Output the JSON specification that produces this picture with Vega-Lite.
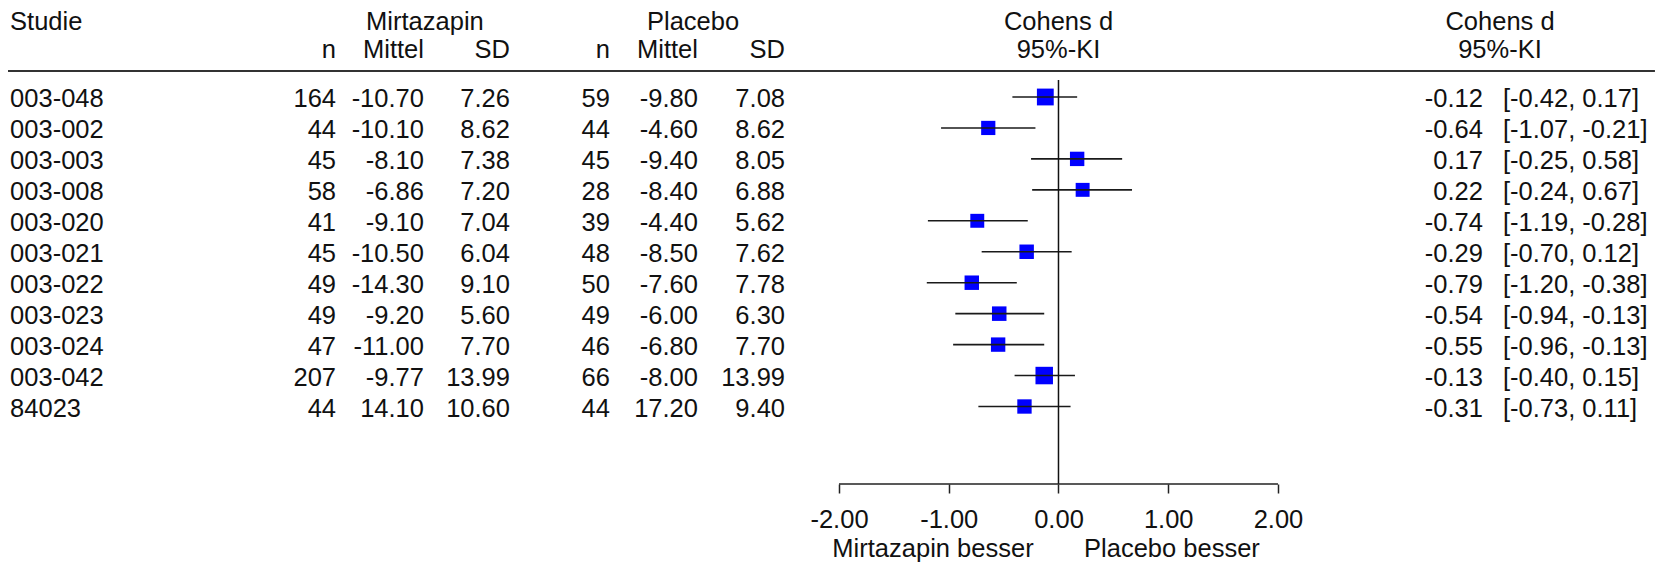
{
  "$schema": "https://vega.github.io/schema/vega-lite/v6.json",
  "width": 1669,
  "height": 484,
  "padding": 0,
  "autosize": {"type": "pad"},
  "background": "white",
  "config": {
    "view": {"stroke": null},
    "locale": {"number": {"decimal": ".", "thousands": ",", "grouping": [3], "currency": ["", ""], "minus": "-"}},
    "text": {"font": "Liberation Sans", "fontSize": 25.5, "color": "#111111"},
    "axisY": {"disable": true}
  },
  "datasets": {
    "studien": [
      {"nr": 1, "Studie": "003-048", "nM": 164, "mM": -10.70, "sdM": 7.26, "nP": 59, "mP": -9.80, "sdP": 7.08, "d": -0.12, "lo": -0.42, "hi": 0.17, "KI": "[-0.42, 0.17]", "gewicht": 15.3},
      {"nr": 2, "Studie": "003-002", "nM": 44, "mM": -10.10, "sdM": 8.62, "nP": 44, "mP": -4.60, "sdP": 8.62, "d": -0.64, "lo": -1.07, "hi": -0.21, "KI": "[-1.07, -0.21]", "gewicht": 7.2},
      {"nr": 3, "Studie": "003-003", "nM": 45, "mM": -8.10, "sdM": 7.38, "nP": 45, "mP": -9.40, "sdP": 8.05, "d": 0.17, "lo": -0.25, "hi": 0.58, "KI": "[-0.25, 0.58]", "gewicht": 7.7},
      {"nr": 4, "Studie": "003-008", "nM": 58, "mM": -6.86, "sdM": 7.20, "nP": 28, "mP": -8.40, "sdP": 6.88, "d": 0.22, "lo": -0.24, "hi": 0.67, "KI": "[-0.24, 0.67]", "gewicht": 6.4},
      {"nr": 5, "Studie": "003-020", "nM": 41, "mM": -9.10, "sdM": 7.04, "nP": 39, "mP": -4.40, "sdP": 5.62, "d": -0.74, "lo": -1.19, "hi": -0.28, "KI": "[-1.19, -0.28]", "gewicht": 6.4},
      {"nr": 6, "Studie": "003-021", "nM": 45, "mM": -10.50, "sdM": 6.04, "nP": 48, "mP": -8.50, "sdP": 7.62, "d": -0.29, "lo": -0.70, "hi": 0.12, "KI": "[-0.70, 0.12]", "gewicht": 7.9},
      {"nr": 7, "Studie": "003-022", "nM": 49, "mM": -14.30, "sdM": 9.10, "nP": 50, "mP": -7.60, "sdP": 7.78, "d": -0.79, "lo": -1.20, "hi": -0.38, "KI": "[-1.20, -0.38]", "gewicht": 7.9},
      {"nr": 8, "Studie": "003-023", "nM": 49, "mM": -9.20, "sdM": 5.60, "nP": 49, "mP": -6.00, "sdP": 6.30, "d": -0.54, "lo": -0.94, "hi": -0.13, "KI": "[-0.94, -0.13]", "gewicht": 8.1},
      {"nr": 9, "Studie": "003-024", "nM": 47, "mM": -11.00, "sdM": 7.70, "nP": 46, "mP": -6.80, "sdP": 7.70, "d": -0.55, "lo": -0.96, "hi": -0.13, "KI": "[-0.96, -0.13]", "gewicht": 7.7},
      {"nr": 10, "Studie": "003-042", "nM": 207, "mM": -9.77, "sdM": 13.99, "nP": 66, "mP": -8.00, "sdP": 13.99, "d": -0.13, "lo": -0.40, "hi": 0.15, "KI": "[-0.40, 0.15]", "gewicht": 17.6},
      {"nr": 11, "Studie": "84023", "nM": 44, "mM": 14.10, "sdM": 10.60, "nP": 44, "mP": 17.20, "sdP": 9.40, "d": -0.31, "lo": -0.73, "hi": 0.11, "KI": "[-0.73, 0.11]", "gewicht": 7.6}
    ]
  },
  "layer": [
    {
      "data": {"name": "studien"},
      "mark": {"type": "square", "filled": true, "color": "#0000ff", "opacity": 1, "strokeWidth": 0},
      "encoding": {
        "x": {"field": "d", "type": "quantitative", "title": null,
              "scale": {"domain": [-9.645, 5.563], "nice": false, "zero": false},
              "axis": {"values": [-2, -1, 0, 1, 2], "format": ".2f", "domain": false, "grid": false, "ticks": true, "tickSize": 9, "tickWidth": 1.5, "tickColor": "#222222", "labelFont": "Liberation Sans", "labelFontSize": 25.5, "labelColor": "#111111", "labelPadding": 14, "labelFlush": false, "labelOverlap": false, "title": null}},
        "y": {"field": "nr", "type": "quantitative", "axis": null, "scale": {"domain": [-2.134, 13.504], "nice": false, "zero": false, "reverse": true}},
        "size": {"field": "gewicht", "type": "quantitative", "legend": null, "scale": {"domain": [6, 18], "range": [190, 310]}}
      }
    },
    {
      "data": {"name": "studien"},
      "mark": {"type": "rule", "color": "#1a1a1a", "strokeWidth": 1.6},
      "encoding": {
        "x": {"field": "lo", "type": "quantitative", "title": null, "scale": {"domain": [-9.645, 5.563], "nice": false, "zero": false}},
        "x2": {"field": "hi"},
        "y": {"field": "nr", "type": "quantitative", "axis": null, "scale": {"domain": [-2.134, 13.504], "nice": false, "zero": false, "reverse": true}}
      }
    },
    {
      "data": {"values": [{}]},
      "mark": {"type": "rule", "color": "#111111", "strokeWidth": 1.5},
      "encoding": {
        "x": {"datum": 0, "scale": {"domain": [-9.645, 5.563], "nice": false, "zero": false}},
        "y": {"datum": 0.451, "axis": null, "scale": {"domain": [-2.134, 13.504], "nice": false, "zero": false, "reverse": true}},
        "y2": {"datum": 13.504}
      }
    },
    {
      "data": {"values": [{}]},
      "mark": {"type": "rule", "color": "#222222", "strokeWidth": 1.6},
      "encoding": {
        "x": {"datum": -2, "scale": {"domain": [-9.645, 5.563], "nice": false, "zero": false}},
        "x2": {"datum": 2},
        "y": {"datum": 13.504, "axis": null, "scale": {"domain": [-2.134, 13.504], "nice": false, "zero": false, "reverse": true}}
      }
    },
    {
      "data": {"values": [{}]},
      "mark": {"type": "rule", "color": "#333333", "strokeWidth": 2},
      "encoding": {
        "x": {"datum": -9.572, "scale": {"domain": [-9.645, 5.563], "nice": false, "zero": false}},
        "x2": {"datum": 5.435},
        "y": {"datum": 0.16, "axis": null, "scale": {"domain": [-2.134, 13.504], "nice": false, "zero": false, "reverse": true}}
      }
    },
    {
      "data": {"name": "studien"},
      "mark": {"type": "text", "align": "left", "baseline": "alphabetic", "dy": 10.5},
      "encoding": {
        "x": {"datum": -9.553, "scale": {"domain": [-9.645, 5.563], "nice": false, "zero": false}},
        "y": {"field": "nr", "type": "quantitative", "axis": null, "scale": {"domain": [-2.134, 13.504], "nice": false, "zero": false, "reverse": true}},
        "text": {"field": "Studie"}
      }
    },
    {
      "data": {"name": "studien"},
      "mark": {"type": "text", "align": "right", "baseline": "alphabetic", "dy": 10.5},
      "encoding": {
        "x": {"datum": -6.583, "scale": {"domain": [-9.645, 5.563], "nice": false, "zero": false}},
        "y": {"field": "nr", "type": "quantitative", "axis": null, "scale": {"domain": [-2.134, 13.504], "nice": false, "zero": false, "reverse": true}},
        "text": {"field": "nM", "type": "quantitative", "format": "d"}
      }
    },
    {
      "data": {"name": "studien"},
      "mark": {"type": "text", "align": "right", "baseline": "alphabetic", "dy": 10.5},
      "encoding": {
        "x": {"datum": -5.782, "scale": {"domain": [-9.645, 5.563], "nice": false, "zero": false}},
        "y": {"field": "nr", "type": "quantitative", "axis": null, "scale": {"domain": [-2.134, 13.504], "nice": false, "zero": false, "reverse": true}},
        "text": {"field": "mM", "type": "quantitative", "format": ".2f"}
      }
    },
    {
      "data": {"name": "studien"},
      "mark": {"type": "text", "align": "right", "baseline": "alphabetic", "dy": 10.5},
      "encoding": {
        "x": {"datum": -4.998, "scale": {"domain": [-9.645, 5.563], "nice": false, "zero": false}},
        "y": {"field": "nr", "type": "quantitative", "axis": null, "scale": {"domain": [-2.134, 13.504], "nice": false, "zero": false, "reverse": true}},
        "text": {"field": "sdM", "type": "quantitative", "format": ".2f"}
      }
    },
    {
      "data": {"name": "studien"},
      "mark": {"type": "text", "align": "right", "baseline": "alphabetic", "dy": 10.5},
      "encoding": {
        "x": {"datum": -4.087, "scale": {"domain": [-9.645, 5.563], "nice": false, "zero": false}},
        "y": {"field": "nr", "type": "quantitative", "axis": null, "scale": {"domain": [-2.134, 13.504], "nice": false, "zero": false, "reverse": true}},
        "text": {"field": "nP", "type": "quantitative", "format": "d"}
      }
    },
    {
      "data": {"name": "studien"},
      "mark": {"type": "text", "align": "right", "baseline": "alphabetic", "dy": 10.5},
      "encoding": {
        "x": {"datum": -3.285, "scale": {"domain": [-9.645, 5.563], "nice": false, "zero": false}},
        "y": {"field": "nr", "type": "quantitative", "axis": null, "scale": {"domain": [-2.134, 13.504], "nice": false, "zero": false, "reverse": true}},
        "text": {"field": "mP", "type": "quantitative", "format": ".2f"}
      }
    },
    {
      "data": {"name": "studien"},
      "mark": {"type": "text", "align": "right", "baseline": "alphabetic", "dy": 10.5},
      "encoding": {
        "x": {"datum": -2.492, "scale": {"domain": [-9.645, 5.563], "nice": false, "zero": false}},
        "y": {"field": "nr", "type": "quantitative", "axis": null, "scale": {"domain": [-2.134, 13.504], "nice": false, "zero": false, "reverse": true}},
        "text": {"field": "sdP", "type": "quantitative", "format": ".2f"}
      }
    },
    {
      "data": {"name": "studien"},
      "mark": {"type": "text", "align": "right", "baseline": "alphabetic", "dy": 10.5},
      "encoding": {
        "x": {"datum": 3.868, "scale": {"domain": [-9.645, 5.563], "nice": false, "zero": false}},
        "y": {"field": "nr", "type": "quantitative", "axis": null, "scale": {"domain": [-2.134, 13.504], "nice": false, "zero": false, "reverse": true}},
        "text": {"field": "d", "type": "quantitative", "format": ".2f"}
      }
    },
    {
      "data": {"name": "studien"},
      "mark": {"type": "text", "align": "left", "baseline": "alphabetic", "dy": 10.5},
      "encoding": {
        "x": {"datum": 4.05, "scale": {"domain": [-9.645, 5.563], "nice": false, "zero": false}},
        "y": {"field": "nr", "type": "quantitative", "axis": null, "scale": {"domain": [-2.134, 13.504], "nice": false, "zero": false, "reverse": true}},
        "text": {"field": "KI"}
      }
    },
    {
      "data": {"values": [{}]},
      "mark": {"type": "text", "align": "left", "baseline": "alphabetic"},
      "encoding": {
        "x": {"datum": -9.553, "scale": {"domain": [-9.645, 5.563], "nice": false, "zero": false}},
        "y": {"datum": -1.149, "axis": null, "scale": {"domain": [-2.134, 13.504], "nice": false, "zero": false, "reverse": true}},
        "text": {"value": "Studie"}
      }
    },
    {
      "data": {"values": [{}]},
      "mark": {"type": "text", "align": "center", "baseline": "alphabetic"},
      "encoding": {
        "x": {"datum": -5.773, "scale": {"domain": [-9.645, 5.563], "nice": false, "zero": false}},
        "y": {"datum": -1.149, "axis": null, "scale": {"domain": [-2.134, 13.504], "nice": false, "zero": false, "reverse": true}},
        "text": {"value": "Mirtazapin"}
      }
    },
    {
      "data": {"values": [{}]},
      "mark": {"type": "text", "align": "center", "baseline": "alphabetic"},
      "encoding": {
        "x": {"datum": -3.33, "scale": {"domain": [-9.645, 5.563], "nice": false, "zero": false}},
        "y": {"datum": -1.149, "axis": null, "scale": {"domain": [-2.134, 13.504], "nice": false, "zero": false, "reverse": true}},
        "text": {"value": "Placebo"}
      }
    },
    {
      "data": {"values": [{}]},
      "mark": {"type": "text", "align": "center", "baseline": "alphabetic"},
      "encoding": {
        "x": {"datum": 0, "scale": {"domain": [-9.645, 5.563], "nice": false, "zero": false}},
        "y": {"datum": -1.149, "axis": null, "scale": {"domain": [-2.134, 13.504], "nice": false, "zero": false, "reverse": true}},
        "text": {"value": "Cohens d"}
      }
    },
    {
      "data": {"values": [{}]},
      "mark": {"type": "text", "align": "center", "baseline": "alphabetic"},
      "encoding": {
        "x": {"datum": 4.023, "scale": {"domain": [-9.645, 5.563], "nice": false, "zero": false}},
        "y": {"datum": -1.149, "axis": null, "scale": {"domain": [-2.134, 13.504], "nice": false, "zero": false, "reverse": true}},
        "text": {"value": "Cohens d"}
      }
    },
    {
      "data": {"values": [{}]},
      "mark": {"type": "text", "align": "right", "baseline": "alphabetic"},
      "encoding": {
        "x": {"datum": -6.583, "scale": {"domain": [-9.645, 5.563], "nice": false, "zero": false}},
        "y": {"datum": -0.26, "axis": null, "scale": {"domain": [-2.134, 13.504], "nice": false, "zero": false, "reverse": true}},
        "text": {"value": "n"}
      }
    },
    {
      "data": {"values": [{}]},
      "mark": {"type": "text", "align": "right", "baseline": "alphabetic"},
      "encoding": {
        "x": {"datum": -5.782, "scale": {"domain": [-9.645, 5.563], "nice": false, "zero": false}},
        "y": {"datum": -0.26, "axis": null, "scale": {"domain": [-2.134, 13.504], "nice": false, "zero": false, "reverse": true}},
        "text": {"value": "Mittel"}
      }
    },
    {
      "data": {"values": [{}]},
      "mark": {"type": "text", "align": "right", "baseline": "alphabetic"},
      "encoding": {
        "x": {"datum": -4.998, "scale": {"domain": [-9.645, 5.563], "nice": false, "zero": false}},
        "y": {"datum": -0.26, "axis": null, "scale": {"domain": [-2.134, 13.504], "nice": false, "zero": false, "reverse": true}},
        "text": {"value": "SD"}
      }
    },
    {
      "data": {"values": [{}]},
      "mark": {"type": "text", "align": "right", "baseline": "alphabetic"},
      "encoding": {
        "x": {"datum": -4.087, "scale": {"domain": [-9.645, 5.563], "nice": false, "zero": false}},
        "y": {"datum": -0.26, "axis": null, "scale": {"domain": [-2.134, 13.504], "nice": false, "zero": false, "reverse": true}},
        "text": {"value": "n"}
      }
    },
    {
      "data": {"values": [{}]},
      "mark": {"type": "text", "align": "right", "baseline": "alphabetic"},
      "encoding": {
        "x": {"datum": -3.285, "scale": {"domain": [-9.645, 5.563], "nice": false, "zero": false}},
        "y": {"datum": -0.26, "axis": null, "scale": {"domain": [-2.134, 13.504], "nice": false, "zero": false, "reverse": true}},
        "text": {"value": "Mittel"}
      }
    },
    {
      "data": {"values": [{}]},
      "mark": {"type": "text", "align": "right", "baseline": "alphabetic"},
      "encoding": {
        "x": {"datum": -2.492, "scale": {"domain": [-9.645, 5.563], "nice": false, "zero": false}},
        "y": {"datum": -0.26, "axis": null, "scale": {"domain": [-2.134, 13.504], "nice": false, "zero": false, "reverse": true}},
        "text": {"value": "SD"}
      }
    },
    {
      "data": {"values": [{}]},
      "mark": {"type": "text", "align": "center", "baseline": "alphabetic"},
      "encoding": {
        "x": {"datum": 0, "scale": {"domain": [-9.645, 5.563], "nice": false, "zero": false}},
        "y": {"datum": -0.26, "axis": null, "scale": {"domain": [-2.134, 13.504], "nice": false, "zero": false, "reverse": true}},
        "text": {"value": "95%-KI"}
      }
    },
    {
      "data": {"values": [{}]},
      "mark": {"type": "text", "align": "center", "baseline": "alphabetic"},
      "encoding": {
        "x": {"datum": 4.023, "scale": {"domain": [-9.645, 5.563], "nice": false, "zero": false}},
        "y": {"datum": -0.26, "axis": null, "scale": {"domain": [-2.134, 13.504], "nice": false, "zero": false, "reverse": true}},
        "text": {"value": "95%-KI"}
      }
    },
    {
      "data": {"values": [{}]},
      "mark": {"type": "text", "align": "center", "baseline": "alphabetic"},
      "encoding": {
        "x": {"datum": -1.1435, "scale": {"domain": [-9.645, 5.563], "nice": false, "zero": false}},
        "y": {"datum": 15.863, "axis": null, "scale": {"domain": [-2.134, 13.504], "nice": false, "zero": false, "reverse": true}},
        "text": {"value": "Mirtazapin besser"}
      }
    },
    {
      "data": {"values": [{}]},
      "mark": {"type": "text", "align": "center", "baseline": "alphabetic"},
      "encoding": {
        "x": {"datum": 1.034, "scale": {"domain": [-9.645, 5.563], "nice": false, "zero": false}},
        "y": {"datum": 15.863, "axis": null, "scale": {"domain": [-2.134, 13.504], "nice": false, "zero": false, "reverse": true}},
        "text": {"value": "Placebo besser"}
      }
    }
  ]
}
